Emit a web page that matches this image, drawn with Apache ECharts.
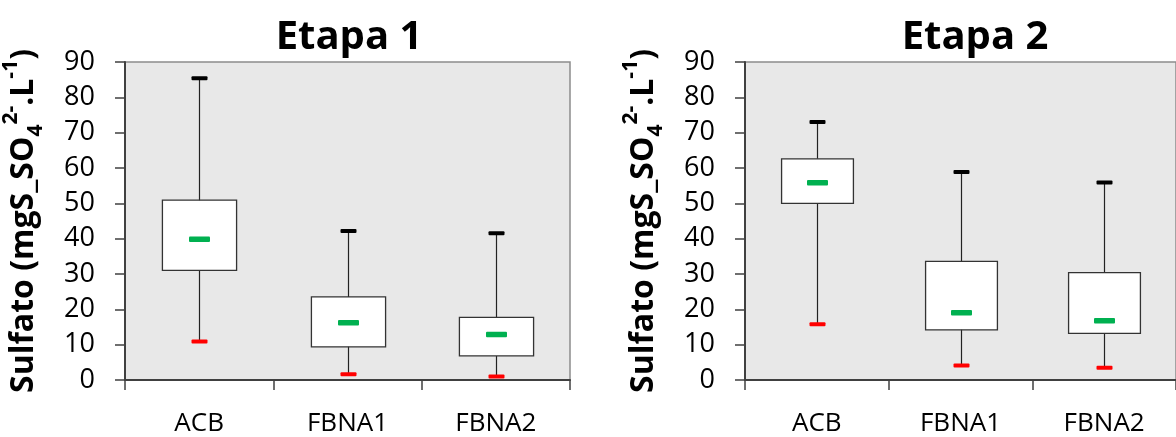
<!DOCTYPE html>
<html>
<head>
<meta charset="utf-8">
<script src="https://cdn.jsdelivr.net/npm/echarts@6/dist/echarts.min.js"></script>
<style>
html,body{margin:0;padding:0;background:#fff;}
#c{width:1176px;height:437px;}
</style>
</head>
<body>
<div id="c"></div>
<script>
const categories = ['ACB', 'FBNA1', 'FBNA2'];
const titles = ['Etapa 1', 'Etapa 2'];
const yTicks = [0, 10, 20, 30, 40, 50, 60, 70, 80, 90];

// Etapa 1
const e1Min = [10.9, 1.6, 1.0];
const e1Q1 = [31.0, 9.4, 6.8];
const e1Median = [39.8, 16.2, 12.9];
const e1Q3 = [50.9, 23.5, 17.7];
const e1Max = [85.4, 42.2, 41.5];

// Etapa 2
const e2Min = [15.8, 4.1, 3.5];
const e2Q1 = [50.0, 14.2, 13.2];
const e2Median = [55.8, 19.0, 16.8];
const e2Q3 = [62.6, 33.6, 30.4];
const e2Max = [73.0, 58.9, 55.9];

function build(mn, q1, md, q3, mx) {
  return categories.map((c, i) => [i, mn[i], q1[i], md[i], q3[i], mx[i]]);
}

const FONT = 'Open Sans';
const yName = '{b|Sulfato (mgS_SO}{sub|4}{sup|2-}{b|.L}{sup|-1}{b|)}';
const yRich = {
  b: { fontFamily: FONT, fontWeight: 'bold', fontSize: 32, color: '#000', lineHeight: 46 },
  sub: { fontFamily: FONT, fontWeight: 'bold', fontSize: 21, color: '#000', verticalAlign: 'bottom', lineHeight: 21 },
  sup: { fontFamily: FONT, fontWeight: 'bold', fontSize: 21, color: '#000', verticalAlign: 'top', lineHeight: 21 }
};

function renderItem(params, api) {
  const x = api.value(0);
  const vmin = api.value(1), vq1 = api.value(2), vmd = api.value(3), vq3 = api.value(4), vmax = api.value(5);
  const band = api.size([1, 0])[0];
  const bw = band * 0.5;
  const pMin = api.coord([x, vmin]);
  const pQ1 = api.coord([x, vq1]);
  const pMd = api.coord([x, vmd]);
  const pQ3 = api.coord([x, vq3]);
  const pMax = api.coord([x, vmax]);
  const cx = Math.round(pMin[0]) + 0.5;
  return {
    type: 'group',
    children: [
      { type: 'line', shape: { x1: cx, y1: pMax[1], x2: cx, y2: pMin[1] }, style: { stroke: '#222', lineWidth: 1.2 } },
      { type: 'rect', shape: { x: cx - bw / 2, y: pQ3[1], width: bw, height: pQ1[1] - pQ3[1] }, style: { fill: '#fff', stroke: '#333', lineWidth: 1.3 } },
      { type: 'rect', shape: { x: cx - 8, y: pMax[1] - 2, width: 16, height: 4, r: 1 }, style: { fill: '#000' } },
      { type: 'rect', shape: { x: cx - 8, y: pMin[1] - 2, width: 16, height: 4, r: 1 }, style: { fill: '#ff0000' } },
      { type: 'rect', shape: { x: cx - 10.5, y: pMd[1] - 2.75, width: 21, height: 5.5, r: 1 }, style: { fill: '#00b050' } }
    ]
  };
}

const grids = [
  { left: 122, top: 62, width: 448, height: 323 },
  { left: 745, top: 62, width: 448, height: 323 }
];

function xAxisCfg(i) {
  return {
    type: 'category', gridIndex: i, data: categories,
    boundaryGap: true,
    axisLine: { show: true, lineStyle: { color: '#404040', width: 2 } },
    axisTick: { show: true, length: 10, lineStyle: { color: '#404040', width: 1.5 } },
    axisLabel: { fontFamily: FONT, fontSize: 26, color: '#000', margin: 31 },
    splitLine: { show: false }
  };
}
function yAxisCfg(i) {
  return {
    type: 'value', gridIndex: i, min: 0, max: 90, interval: 10,
    name: yName, nameLocation: 'middle', nameRotate: 90, nameGap: 78,
    nameTextStyle: { rich: yRich },
    axisLine: { show: true, lineStyle: { color: '#404040', width: 2 } },
    axisTick: { show: true, length: 10, lineStyle: { color: '#404040', width: 1.5 } },
    axisLabel: { fontFamily: FONT, fontSize: 27, color: '#000', margin: 30,
      formatter: v => (yTicks.indexOf(v) >= 0 ? String(v) : '') },
    splitLine: { show: false }
  };
}

const chart = echarts.init(document.getElementById('c'), null, { renderer: 'canvas' });
chart.setOption({
  animation: false,
  backgroundColor: '#fff',
  title: [
    { text: titles[0], left: 344, top: 13, textAlign: 'center',
      textStyle: { fontFamily: FONT, fontWeight: 'bold', fontSize: 40, color: '#000' } },
    { text: titles[1], left: 970, top: 13, textAlign: 'center',
      textStyle: { fontFamily: FONT, fontWeight: 'bold', fontSize: 40, color: '#000' } }
  ],
  grid: grids.map(g => Object.assign({ show: true, backgroundColor: '#e8e8e8', borderColor: '#8c8c8c', borderWidth: 1.5, containLabel: false }, g)),
  xAxis: [xAxisCfg(0), xAxisCfg(1)],
  yAxis: [yAxisCfg(0), yAxisCfg(1)],
  series: [
    { type: 'custom', xAxisIndex: 0, yAxisIndex: 0, renderItem: renderItem,
      encode: { x: 0, y: [1, 2, 3, 4, 5] }, data: build(e1Min, e1Q1, e1Median, e1Q3, e1Max) },
    { type: 'custom', xAxisIndex: 1, yAxisIndex: 1, renderItem: renderItem,
      encode: { x: 0, y: [1, 2, 3, 4, 5] }, data: build(e2Min, e2Q1, e2Median, e2Q3, e2Max) }
  ]
});
</script>
</body>
</html>
